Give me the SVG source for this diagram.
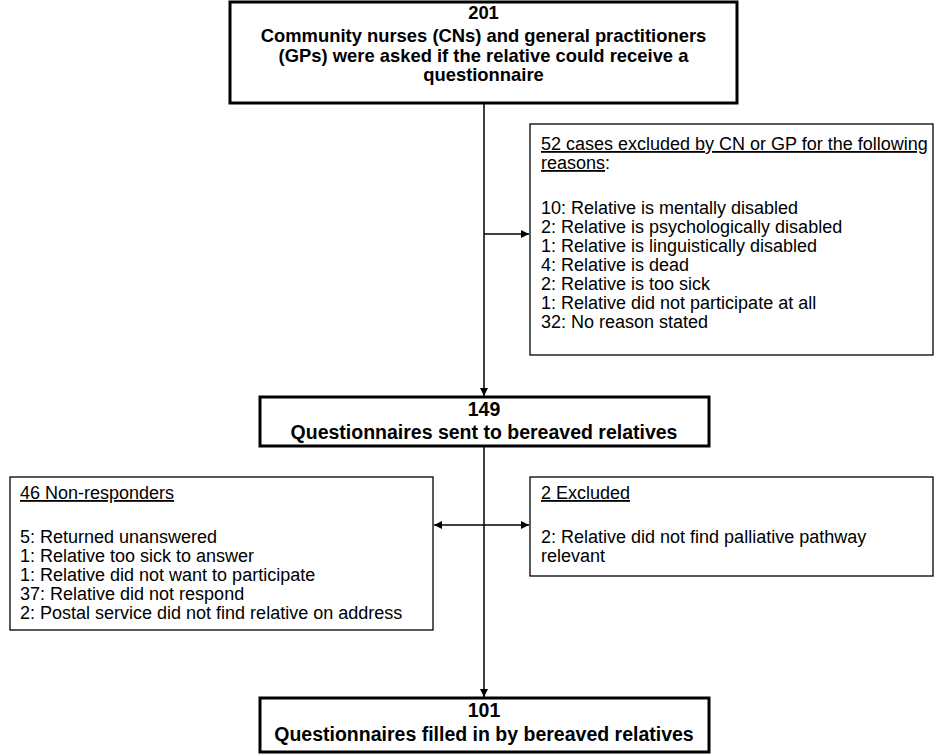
<svg xmlns="http://www.w3.org/2000/svg" width="935" height="755" viewBox="0 0 935 755">
<defs>
<style>
.thick{fill:#fff;stroke:#000;stroke-width:3}
.thin{fill:#fff;stroke:#000;stroke-width:1.3}
.b{font-family:"Liberation Sans",Arial,sans-serif;font-weight:bold;font-size:18.4px;text-anchor:middle;fill:#000}
.b2{font-family:"Liberation Sans",Arial,sans-serif;font-weight:bold;font-size:19.5px;text-anchor:middle;fill:#000}
.r{font-family:"Liberation Sans",Arial,sans-serif;font-size:18px;fill:#000}
.u{text-decoration:underline}
.line{stroke:#000;stroke-width:1.5;fill:none}
</style>
<marker id="arr" viewBox="0 0 10 10" refX="10" refY="5" markerWidth="8" markerHeight="8" markerUnits="userSpaceOnUse" orient="auto-start-reverse">
<path d="M0,0 L10,5 L0,10 z" fill="#000"/>
</marker>
</defs>
<g id="connectors">
<line class="line" x1="484" y1="103" x2="484" y2="396" marker-end="url(#arr)"/>
<line class="line" x1="484" y1="234" x2="529" y2="234" marker-end="url(#arr)"/>
<line class="line" x1="484" y1="447" x2="484" y2="697" marker-end="url(#arr)"/>
<line class="line" x1="434" y1="525" x2="529" y2="525" marker-start="url(#arr)" marker-end="url(#arr)"/>
</g>
<g id="n201">
<rect class="thick" x="230" y="2" width="507" height="101"/>
<text class="b" x="483.5" y="19">201</text>
<text class="b" x="483.5" y="42">Community nurses (CNs) and general practitioners</text>
<text class="b" x="483.5" y="61.5">(GPs) were asked if the relative could receive a</text>
<text class="b" x="483.5" y="81">questionnaire</text>
</g>
<g id="excl52">
<rect class="thin" x="530" y="124" width="403" height="231"/>
<text class="r" x="541" y="150"><tspan class="u">52 cases excluded by CN or GP for the following</tspan></text>
<text class="r" x="541" y="169"><tspan class="u">reasons</tspan>:</text>
<text class="r" x="541" y="214">10: Relative is mentally disabled</text>
<text class="r" x="541" y="233">2: Relative is psychologically disabled</text>
<text class="r" x="541" y="252">1: Relative is linguistically disabled</text>
<text class="r" x="541" y="271">4: Relative is dead</text>
<text class="r" x="541" y="290">2: Relative is too sick</text>
<text class="r" x="541" y="309">1: Relative did not participate at all</text>
<text class="r" x="541" y="328">32: No reason stated</text>
</g>
<g id="n149">
<rect class="thick" x="260" y="397" width="449" height="49"/>
<text class="b2" x="484" y="416">149</text>
<text class="b2" x="484" y="439">Questionnaires sent to bereaved relatives</text>
</g>
<g id="nonresp">
<rect class="thin" x="10" y="477" width="423" height="153"/>
<text class="r" x="20" y="499"><tspan class="u">46 Non-responders</tspan></text>
<text class="r" x="20" y="543">5: Returned unanswered</text>
<text class="r" x="20" y="562">1: Relative too sick to answer</text>
<text class="r" x="20" y="581">1: Relative did not want to participate</text>
<text class="r" x="20" y="600">37: Relative did not respond</text>
<text class="r" x="20" y="619">2: Postal service did not find relative on address</text>
</g>
<g id="excl2">
<rect class="thin" x="530" y="477" width="403" height="99"/>
<text class="r" x="541" y="499"><tspan class="u">2 Excluded</tspan></text>
<text class="r" x="541" y="543">2: Relative did not find palliative pathway</text>
<text class="r" x="541" y="562">relevant</text>
</g>
<g id="n101">
<rect class="thick" x="260" y="698" width="449" height="54"/>
<text class="b2" x="484" y="717">101</text>
<text class="b2" x="484" y="741">Questionnaires filled in by bereaved relatives</text>
</g>
</svg>
